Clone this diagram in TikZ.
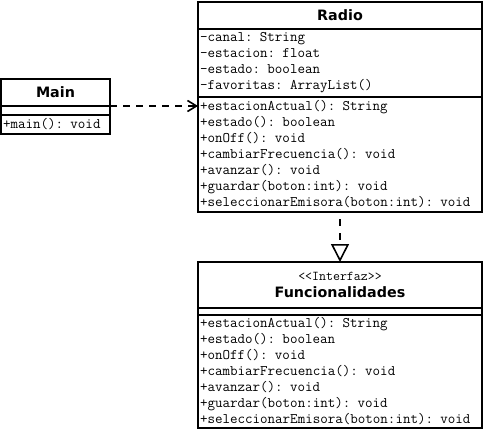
\documentclass[tikz,border=0pt]{standalone}
\usepackage{fontspec}
\usetikzlibrary{shapes.geometric, arrows.meta, positioning}
\newfontfamily\umlsans{DejaVu Sans}
\tikzstyle{classtitle} = [rectangle, 
draw=black, 
line width=1.6pt, 
outer sep=0pt, 
inner sep=0pt, 
text centered, 
font=\umlsans\bfseries\fontsize{14.3}{17}\selectfont]
\tikzstyle{classbody} = [rectangle, 
draw=black, 
line width=1.6pt, 
outer sep=0pt, 
inner xsep=2pt, 
inner ysep=0pt, 
align=left, 
font=\ttfamily\fontsize{14.6}{16}\selectfont]
\tikzstyle{depend} = [line width=1.6pt, dash pattern=on 7pt off 6pt, -{Straight Barb[length=9pt, width=11pt]}]
\tikzstyle{realize} = [line width=1.6pt, dash pattern=on 7pt off 7pt, dash phase=7pt, -{Triangle[open, length=18pt, width=18pt]}]

\begin{document}
\begin{tikzpicture}[x=1pt, y=-1pt]
		\useasboundingbox (0,0) rectangle (486,431);
		
		% Main
		\node (maintitle) [classtitle, minimum width=109pt, minimum height=27pt, anchor=north] at (55.5,79) {Main};
		\node (mainattr) [classbody, text width=105pt, minimum height=9pt, below=0pt of maintitle] {};
		\node (mainmeth) [classbody, text width=105pt, minimum height=19pt, below=0pt of mainattr] {+main(): void};
		
		% Radio
		\node (radiotitle) [classtitle, minimum width=284pt, minimum height=27pt, anchor=north] at (340,2) {Radio};
		\node (radioattr) [classbody, text width=280pt, minimum height=68pt, below=0pt of radiotitle] {-canal: String\\-estacion: float\\-estado: boolean\\-favoritas: ArrayList()};
		\node (radiometh) [classbody, text width=280pt, minimum height=115pt, below=0pt of radioattr] {+estacionActual(): String\\+estado(): boolean\\+onOff(): void\\+cambiarFrecuencia(): void\\+avanzar(): void\\+guardar(boton:int): void\\+seleccionarEmisora(boton:int): void};
		
		% Funcionalidades
		\node (functitle) [classtitle, minimum width=284pt, minimum height=46pt, anchor=north, align=center] at (340,262) {{\ttfamily\mdseries\fontsize{13.5}{17}\selectfont <{}<Interfaz>{}>}\\Funcionalidades};
		\node (funcattr) [classbody, text width=280pt, minimum height=7pt, below=0pt of functitle] {};
		\node (funcmeth) [classbody, text width=280pt, minimum height=113pt, below=0pt of funcattr] {+estacionActual(): String\\+estado(): boolean\\+onOff(): void\\+cambiarFrecuencia(): void\\+avanzar(): void\\+guardar(boton:int): void\\+seleccionarEmisora(boton:int): void};
		
		\draw [depend] (maintitle.south east) -- (maintitle.south east -| radiometh.west);
		\draw [realize] (radiometh.south) -- (functitle.north);
		
	\end{tikzpicture}
\end{document}
